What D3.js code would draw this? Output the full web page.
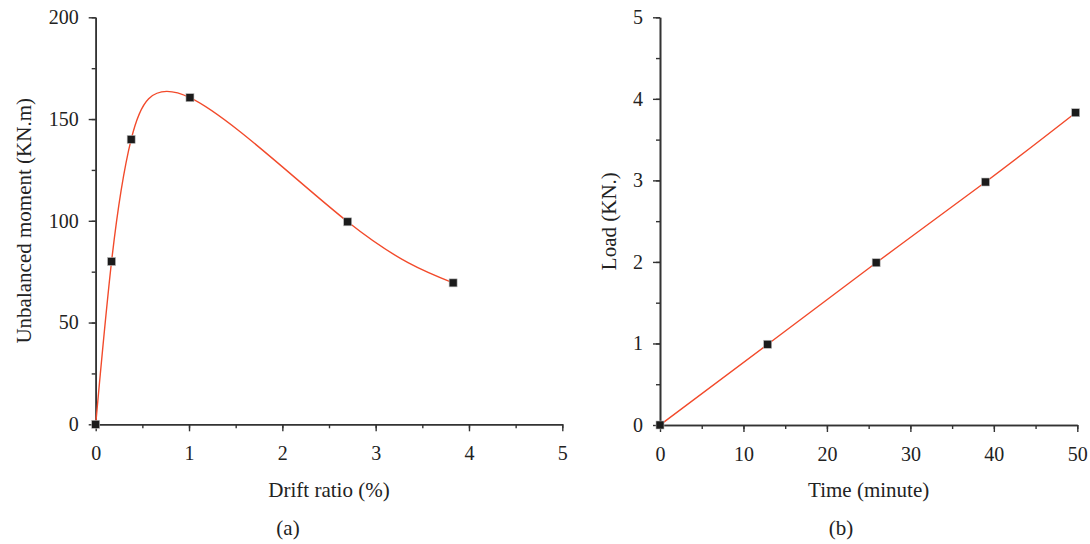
<!DOCTYPE html>
<html>
<head>
<meta charset="utf-8">
<script src="https://cdn.jsdelivr.net/npm/d3@7/dist/d3.min.js"></script>
<style>
  html, body { margin: 0; padding: 0; background: #fff; }
  svg { display: block; font-family: "Liberation Serif", "DejaVu Serif", serif; }
</style>
</head>
<body>
<svg id="chart" width="1090" height="544"></svg>
<script>
// Panel (a): unbalanced moment vs drift ratio
const driftRatio = [0, 0.17, 0.38, 1.01, 2.70, 3.83];
const unbalancedMoment = [0, 80, 140, 160.5, 99.5, 69.5];
const driftTicks = [0, 1, 2, 3, 4, 5];
const momentTicks = [0, 50, 100, 150, 200];

// Panel (b): load vs time
const timeMinutes = [0, 12.9, 25.9, 39.0, 49.8];
const loadKN = [0, 0.99, 1.99, 2.98, 3.83];
const timeTicks = [0, 10, 20, 30, 40, 50];
const loadTicks = [0, 1, 2, 3, 4, 5];

const svg = d3.select("#chart");
const axisColor = "#333";
const textColor = "#222";
const lineColor = "#f24a2b";
const tickFont = 20;
const titleFont = 21;

function drawPanel(cfg) {
  const x = d3.scaleLinear().domain(cfg.xDomain).range([cfg.x0, cfg.x1]);
  const y = d3.scaleLinear().domain(cfg.yDomain).range([cfg.y0, cfg.y1]);
  const g = svg.append("g");

  // minor ticks
  const xMinor = d3.range(cfg.xDomain[0], cfg.xDomain[1] + 1e-9, cfg.xMinorStep);
  const yMinor = d3.range(cfg.yDomain[0], cfg.yDomain[1] + 1e-9, cfg.yMinorStep);

  const gx = g.append("g").attr("transform", `translate(0,${cfg.y0})`)
    .call(d3.axisBottom(x).tickValues(xMinor).tickSize(4).tickSizeOuter(0).tickFormat(""));
  const gy = g.append("g").attr("transform", `translate(${cfg.x0},0)`)
    .call(d3.axisLeft(y).tickValues(yMinor).tickSize(4).tickSizeOuter(0).tickFormat(""));

  // major ticks with labels
  const gx2 = g.append("g").attr("transform", `translate(0,${cfg.y0})`)
    .call(d3.axisBottom(x).tickValues(cfg.xTicks).tickSize(7).tickSizeOuter(0).tickPadding(15)
      .tickFormat(d3.format("d")));
  const gy2 = g.append("g").attr("transform", `translate(${cfg.x0},0)`)
    .call(d3.axisLeft(y).tickValues(cfg.yTicks).tickSize(7).tickSizeOuter(0).tickPadding(cfg.yPad)
      .tickFormat(d3.format("d")));

  [gx, gy, gx2, gy2].forEach(a => {
    a.attr("font-family", null).attr("font-size", null);
    a.select(".domain").attr("stroke", axisColor).attr("stroke-width", 1.6);
    a.selectAll(".tick line").attr("stroke", axisColor).attr("stroke-width", 1.4);
    a.selectAll(".tick text").attr("fill", textColor).attr("font-size", tickFont);
  });

  // fitted curve through the measured points
  const pts = cfg.xs.map((v, i) => [v, cfg.ys[i]]);
  const line = d3.line().x(d => x(d[0])).y(d => y(d[1])).curve(d3.curveNatural);
  g.append("path").datum(pts)
    .attr("d", line)
    .attr("fill", "none")
    .attr("stroke", lineColor)
    .attr("stroke-width", 1.4);

  // square markers
  const s = 8;
  g.selectAll("rect.pt").data(pts).join("rect")
    .attr("class", "pt")
    .attr("x", d => x(d[0]) - s / 2)
    .attr("y", d => y(d[1]) - s / 2)
    .attr("width", s).attr("height", s)
    .attr("fill", "#1b1b1b")
    .attr("stroke", "#bbb")
    .attr("stroke-width", 0.6);

  // axis titles and panel label
  g.append("text")
    .attr("x", (cfg.x0 + cfg.x1) / 2)
    .attr("y", 497)
    .attr("text-anchor", "middle")
    .attr("font-size", titleFont)
    .attr("fill", textColor)
    .text(cfg.xTitle);
  g.append("text")
    .attr("transform", `translate(${cfg.yTitleX},${(cfg.y0 + cfg.y1) / 2}) rotate(-90)`)
    .attr("text-anchor", "middle")
    .attr("font-size", titleFont)
    .attr("fill", textColor)
    .text(cfg.yTitle);
  g.append("text")
    .attr("x", cfg.labelX)
    .attr("y", 535)
    .attr("text-anchor", "middle")
    .attr("font-size", titleFont)
    .attr("fill", textColor)
    .text(cfg.label);
}

drawPanel({
  xDomain: [0, 5], yDomain: [0, 200],
  x0: 95.7, x1: 562.3, y0: 424.3, y1: 17.3,
  xTicks: driftTicks, yTicks: momentTicks,
  xMinorStep: 0.5, yMinorStep: 25, yPad: 10,
  xs: driftRatio, ys: unbalancedMoment,
  xTitle: "Drift ratio (%)",
  yTitle: "Unbalanced moment (KN.m)", yTitleX: 31,
  label: "(a)", labelX: 288
});

drawPanel({
  xDomain: [0, 50], yDomain: [0, 5],
  x0: 660, x1: 1077.3, y0: 425, y1: 17.3,
  xTicks: timeTicks, yTicks: loadTicks,
  xMinorStep: 5, yMinorStep: 0.5, yPad: 10,
  xs: timeMinutes, ys: loadKN,
  xTitle: "Time (minute)",
  yTitle: "Load (KN.)", yTitleX: 616,
  label: "(b)", labelX: 841
});
</script>
</body>
</html>
